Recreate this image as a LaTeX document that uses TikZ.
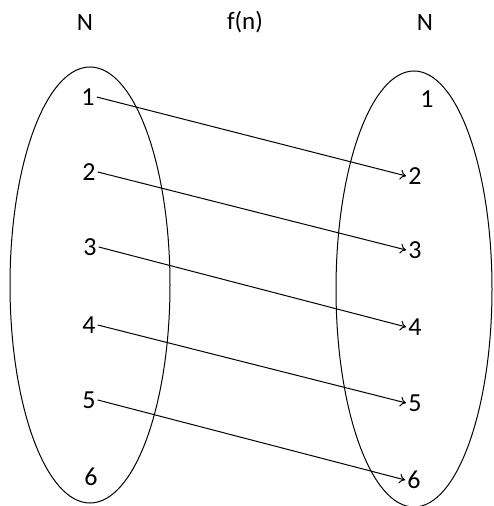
\documentclass[tikz,border=0pt]{standalone}
\usepackage{fontspec}
\setmainfont{Carlito}
\usetikzlibrary{arrows.meta}

\begin{document}
\begin{tikzpicture}[x=1pt, y=-1pt,
  % Node Styles
  numnode/.style={inner sep=2pt, font=\fontsize{26}{28}\selectfont},
  headnode/.style={inner sep=0pt, font=\fontsize{25}{28}\selectfont},
  % Line Styles
  setline/.style={line width=1pt},
  maparrow/.style={-{To[length=6pt,width=10pt]}, line width=1pt},
]
\useasboundingbox (0,0) rectangle (494,506);

% Headings
\node[headnode] (N_left) at (85,22) {N};
\node[headnode] (f_n) at (245,22) {f(n)};
\node[headnode] (N_right) at (425,22) {N};

% Sets
\draw[setline] (90,285) ellipse [x radius=80, y radius=218];
\draw[setline] (414,289) ellipse [x radius=78, y radius=218];

% Domain
\node[numnode] (L1) at (88,97) {1};
\node[numnode] (L2) at (89,172) {2};
\node[numnode] (L3) at (90,247) {3};
\node[numnode] (L4) at (89,325) {4};
\node[numnode] (L5) at (89,400) {5};
\node[numnode] (L6) at (91,477) {6};

% Codomain
\node[numnode] (R1) at (427,99) {1};
\node[numnode] (R2) at (415,176) {2};
\node[numnode] (R3) at (415,250) {3};
\node[numnode] (R4) at (415,327) {4};
\node[numnode] (R5) at (415,403) {5};
\node[numnode] (R6) at (414,480) {6};

% Mapping
\draw[maparrow] (L1.east) -- (R2.west);
\draw[maparrow] (L2.east) -- (R3.west);
\draw[maparrow] (L3.east) -- (R4.west);
\draw[maparrow] (L4.east) -- (R5.west);
\draw[maparrow] (L5.east) -- (R6.west);

\end{tikzpicture}
\end{document}
